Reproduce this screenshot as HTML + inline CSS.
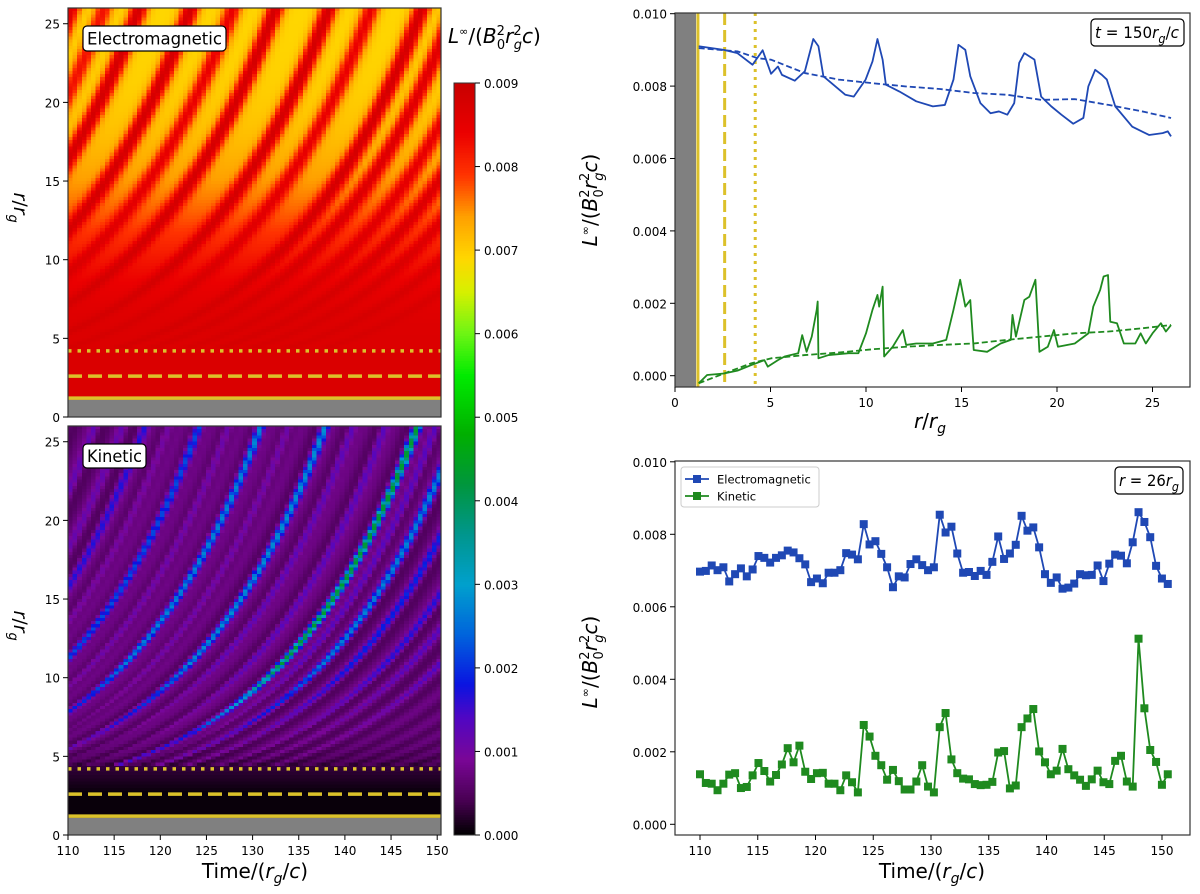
<!DOCTYPE html>
<html><head><meta charset="utf-8">
<style>
body{margin:0;background:#fff;width:1200px;height:894px;overflow:hidden;position:relative;font-family:"DejaVu Sans","Liberation Sans",sans-serif;}
canvas{position:absolute;image-rendering:pixelated;}
svg{position:absolute;left:0;top:0;}
text{font-family:"DejaVu Sans","Liberation Sans",sans-serif;fill:#000;}
</style></head>
<body>
<canvas id="hmEM" width="81" height="130" style="left:68px;top:8px;width:373px;height:409px"></canvas>
<canvas id="hmK" width="81" height="130" style="left:68px;top:426px;width:373px;height:409px"></canvas>
<canvas id="cbar" width="1" height="300" style="left:454px;top:83px;width:21px;height:752px"></canvas>
<svg id="main" width="1200" height="894"></svg>
<script>
// ---------- data ----------
const emSeries=[6.97,6.99,7.14,7.01,7.09,6.70,6.90,7.06,6.84,7.03,7.40,7.35,7.22,7.35,7.42,7.55,7.50,7.34,7.17,6.68,6.78,6.65,6.94,6.94,7.01,7.48,7.44,7.31,8.28,7.72,7.81,7.46,7.09,6.54,6.84,6.81,7.18,7.31,7.15,7.01,7.09,8.54,8.05,8.21,7.47,6.94,6.96,6.85,6.99,6.88,7.24,7.94,7.32,7.47,7.71,8.51,8.10,8.19,7.64,6.90,6.66,6.81,6.50,6.53,6.64,6.90,6.87,6.88,7.14,6.71,7.19,7.44,7.41,7.20,7.78,8.61,8.34,7.92,7.13,6.78,6.63];
const kinSeries=[1.38,1.14,1.12,0.94,1.12,1.37,1.41,1.00,1.03,1.35,1.69,1.47,1.18,1.36,1.65,2.10,1.71,2.17,1.45,1.25,1.41,1.42,1.12,1.12,0.94,1.35,1.16,0.88,2.74,2.42,1.89,1.63,1.23,1.50,1.19,0.96,0.96,1.18,1.63,1.04,0.88,2.68,3.07,1.79,1.41,1.26,1.24,1.11,1.08,1.09,1.17,1.98,2.02,0.99,1.07,2.68,2.92,3.18,2.01,1.71,1.38,1.48,2.08,1.52,1.35,1.23,1.06,1.24,1.48,1.16,1.11,1.75,1.89,1.18,1.04,5.12,3.20,2.05,1.72,1.09,1.38];
const tStart=110, tEnd=150.5;
const xTicksTime=[110,115,120,125,130,135,140,145,150];
const yTicksL=[0,2,4,6,8,10];
const yTickLabelsL=["0.000","0.002","0.004","0.006","0.008","0.010"];
const rEmSolid=[1.24,2.56,3.27,4.06,4.59,5.03,5.39,5.6,6.27,6.8,7.24,7.51,7.77,8.92,9.36,9.98,10.34,10.6,10.87,11.04,11.75,12.63,13.5,14.13,14.58,14.84,15.2,15.46,15.99,16.52,16.96,17.4,17.76,18.02,18.29,18.82,19.17,19.7,20.23,20.85,21.38,21.64,22.0,22.35,22.61,23.05,23.94,24.82,25.53,25.8,25.97];
const vEmSolid=[9.10,9.00,8.91,8.59,8.99,8.34,8.54,8.31,8.15,8.41,9.30,9.10,8.27,7.76,7.71,8.18,8.68,9.30,8.73,8.04,7.85,7.58,7.44,7.48,8.18,9.14,9.00,8.27,7.53,7.25,7.30,7.21,7.53,8.64,8.91,8.73,7.71,7.44,7.21,6.96,7.12,7.99,8.45,8.31,8.18,7.44,6.88,6.65,6.70,6.75,6.61];
const rEmDash=[1.24,3.27,4.33,5.03,6.8,8.57,10.34,12.1,13.87,15.64,17.4,19.17,20.93,22.7,24.47,25.97];
const vEmDash=[9.05,8.96,8.77,8.73,8.36,8.18,8.08,7.99,7.92,7.81,7.76,7.62,7.64,7.48,7.30,7.12];
const rKinSolid=[1.24,1.68,2.56,3.27,3.98,4.68,4.86,5.39,5.74,6.45,6.66,6.89,7.16,7.42,7.47,7.51,8.04,9.1,9.6,10.0,10.34,10.6,10.69,10.87,10.95,11.4,11.93,12.1,12.63,13.5,14.2,14.58,14.93,15.2,15.46,15.64,16.34,17.05,17.58,17.67,17.85,18.29,18.55,18.87,19.08,19.52,19.84,20.05,20.93,21.64,21.9,22.26,22.44,22.67,22.79,23.14,23.5,24.1,24.38,24.65,25.0,25.44,25.7,25.97];
const vKinSolid=[-0.21,0.02,0.06,0.14,0.29,0.43,0.25,0.43,0.53,0.62,1.12,0.66,1.08,1.82,2.05,0.48,0.57,0.62,0.62,1.17,1.82,2.23,1.91,2.46,0.53,0.80,1.26,0.85,0.89,0.89,0.99,1.82,2.65,1.91,2.09,0.71,0.66,0.89,0.99,1.68,1.08,2.09,2.18,2.65,0.66,0.80,1.26,0.80,0.89,1.17,1.91,2.37,2.74,2.78,1.49,1.45,0.89,0.89,1.17,0.89,1.17,1.45,1.22,1.40];
const rKinDash=[1.24,2.56,3.98,5.03,6.8,8.57,10.34,12.1,13.87,15.64,17.4,19.17,20.93,22.7,24.47,25.97];
const vKinDash=[-0.21,0.06,0.34,0.48,0.57,0.64,0.73,0.80,0.85,0.89,0.99,1.08,1.17,1.22,1.31,1.40];
const xTicksR=[0,5,10,15,20,25];
const emBandT=[80.5,84,87.8,93.4,98,102.6,108.4,113,118.5,122,126,129.5,133,137,141];
const emBandA=[0.9,0.7,1.0,1.0,0.8,1.0,1.0,0.8,1.0,0.9,0.8,0.9,0.8,0.8,0.7];
const kinStreakT=[83,86,88.4,91,94.3,97.5,101,104,108,111,114.5,118,120,122.5,125.7,129.3,132,135.2];
const kinStreakA=[1.3,1.2,1.8,1.3,2.5,1.4,3.0,1.4,3.0,1.5,1.5,4.5,1.6,2.8,2.0,1.8,1.4,1.5];
const cbTicks=[0,1,2,3,4,5,6,7,8,9];
const hLines=[1.2,2.6,4.2];

// ---------- colormap ----------
const stops=[[0,[0,0,0]],[0.4,[70,0,80]],[0.9,[122,6,150]],[1.4,[80,6,195]],[1.8,[10,20,225]],[2.4,[0,100,220]],[3.0,[0,160,205]],[3.6,[0,150,140]],[4.2,[0,150,60]],[4.8,[0,175,0]],[5.5,[0,235,0]],[6.0,[110,245,20]],[6.5,[215,240,0]],[6.9,[255,215,0]],[7.4,[255,160,0]],[7.9,[255,50,0]],[8.4,[235,0,0]],[9.0,[200,0,0]]];
function cmap(v){
  if(v<=0) return stops[0][1];
  for(let i=1;i<stops.length;i++){ if(v<=stops[i][0]){const a=stops[i-1],b=stops[i];const f=(v-a[0])/(b[0]-a[0]);return a[1].map((c,k)=>Math.round(c+(b[1][k]-c)*f));}}
  return stops[stops.length-1][1];
}
function launchT(t,r){return t-Math.log(Math.max(r-1.5,0.05)/3.5)/0.065;}
function drawHeat(id,fn){
  const c=document.getElementById(id),ctx=c.getContext('2d'),img=ctx.createImageData(81,130);
  for(let j=0;j<130;j++){const r=26-(j+0.5)*0.2;for(let i=0;i<81;i++){const t=110+(i+0.5)*0.5;const col=cmap(fn(t,r));const p=(j*81+i)*4;img.data[p]=col[0];img.data[p+1]=col[1];img.data[p+2]=col[2];img.data[p+3]=255;}}
  ctx.putImageData(img,0,0);
}
drawHeat('hmEM',(t,r)=>{
  const b=6.9+1.75*Math.exp(-Math.pow(Math.max(r-5,0)/9,2));
  if(r<4.5) return 8.7;
  const T=launchT(t,r);let m=0;
  emBandT.forEach((bt,k)=>{const g=emBandA[k]*Math.exp(-Math.pow((T-bt)/1.0,2));if(g>m)m=g;});
  return b+(8.8-b)*m;
});
drawHeat('hmK',(t,r)=>{
  if(r<4.3) return r<2.7?0.05:0.05+(r-2.7)*0.15;
  let base=0.8-0.35*Math.exp(-(r-4.3)/0.8);
  const T=launchT(t,r);let m=0;
  const fade=Math.min(1,Math.max(0,(r-6)/5));
  kinStreakT.forEach((st,k)=>{const g=(kinStreakA[k]-0.8)*Math.exp(-Math.pow((T-st)/0.45,2));if(g>m)m=g;});
  const dark=-0.3*Math.exp(-Math.pow(((T%3.3)+3.3)%3.3-1.6,2));
  return base+dark+m*(0.3+0.7*fade);
});
(function(){const c=document.getElementById('cbar'),ctx=c.getContext('2d');for(let j=0;j<300;j++){const v=9*(1-(j+0.5)/300);const col=cmap(v);ctx.fillStyle=`rgb(${col[0]},${col[1]},${col[2]})`;ctx.fillRect(0,j,1,1);}})();

// ---------- svg ----------
const NS='http://www.w3.org/2000/svg',svg=document.getElementById('main');
function el(tag,attrs,parent){const e=document.createElementNS(NS,tag);for(const k in attrs)e.setAttribute(k,attrs[k]);(parent||svg).appendChild(e);return e;}
function txt(s,attrs,parent){const e=el('text',attrs,parent);e.innerHTML=s;return e;}
const YEL='#dcc12a',BLUE='#1f48b4',GREEN='#1f8a1f';

const hx=t=>68+(t-110)*9.23;
const panels=[{top:8,bot:417,name:'electromagnetic'},{top:426,bot:835,name:'kinetic'}];
panels.forEach(p=>{
  const ry=r=>p.bot-r*(p.bot-p.top)/26;
  const g=el('g',{});
  
  
  el('rect',{x:68,y:ry(1.1),width:373,height:p.bot-ry(1.1),fill:'#808080'},g);
  hLines.forEach((r,k)=>{
    const l=el('line',{x1:68,x2:441,y1:ry(r),y2:ry(r),stroke:YEL,'stroke-width':3.5,'stroke-dasharray':k==0?'none':(k==1?'14,6':'3.5,6')},g);
    
    
  });
  el('rect',{x:68,y:p.top,width:373,height:p.bot-p.top,fill:'none',stroke:'#333','stroke-width':1.2},g);
  [0,5,10,15,20,25].forEach(r=>{el('line',{x1:63,x2:68,y1:ry(r),y2:ry(r),stroke:'#000'},g);txt(String(r),{x:60,y:ry(r)+5,'text-anchor':'end','font-size':12},g);});
  const yl=txt('<tspan font-style="italic">r</tspan>/<tspan font-style="italic">r</tspan><tspan font-size="13" dy="5" font-style="italic">g</tspan>',{x:0,y:0,'font-size':19,transform:`translate(14,${(p.top+p.bot)/2-20}) rotate(90)`},g);
  
  
});
xTicksTime.forEach(t=>{el('line',{x1:hx(t),x2:hx(t),y1:835,y2:840,stroke:'#000'});txt(String(t),{x:hx(t),y:855,'text-anchor':'middle','font-size':12});});
const hxl=txt('Time/(<tspan font-style="italic">r</tspan><tspan font-size="14" dy="5" font-style="italic">g</tspan><tspan dy="-5">/</tspan><tspan font-style="italic">c</tspan>)',{x:255,y:878,'text-anchor':'middle','font-size':20});


[[83,26,143,25,'Electromagnetic',87,44.5,16.5],[83,444,63,24,'Kinetic',87,462,16.5]].forEach(b=>{
  el('rect',{x:b[0],y:b[1],width:b[2],height:b[3],rx:4,fill:'#fff',stroke:'#000','stroke-width':1.2});
  const t=txt(b[4],{x:b[5],y:b[6],'font-size':b[7],textLength:b[2]-8,lengthAdjust:'spacingAndGlyphs'});
  
  
});
el('rect',{x:454,y:83,width:21,height:752,fill:'none',stroke:'#333'});
cbTicks.forEach(v=>{const y=835-v/9*752;el('line',{x1:475,x2:480,y1:y,y2:y,stroke:'#000'});txt((v/1000).toFixed(3),{x:484,y:y+5,'font-size':12});});
const cbl=txt('<tspan font-style="italic">L</tspan><tspan font-size="11" dy="-8">∞</tspan><tspan dy="8">/(</tspan><tspan font-style="italic">B</tspan><tspan font-size="13" dy="-8">2</tspan><tspan font-size="13" dx="-8" dy="14">0</tspan><tspan font-style="italic" dy="-6">r</tspan><tspan font-size="13" dy="-8">2</tspan><tspan font-size="13" font-style="italic" dx="-8" dy="14">g</tspan><tspan font-style="italic" dy="-6">c</tspan>)',{x:448,y:43,'font-size':20});



function ylab(y){const t=txt('<tspan font-style="italic">L</tspan><tspan font-size="11" dy="-8">∞</tspan><tspan dy="8">/(</tspan><tspan font-style="italic">B</tspan><tspan font-size="13" dy="-8">2</tspan><tspan font-size="13" dx="-8" dy="14">0</tspan><tspan font-style="italic" dy="-6">r</tspan><tspan font-size="13" dy="-8">2</tspan><tspan font-size="13" font-style="italic" dx="-8" dy="14">g</tspan><tspan font-style="italic" dy="-6">c</tspan>)',{x:0,y:0,'font-size':20,'text-anchor':'middle',transform:`translate(597,${y}) rotate(-90)`});
 
 }
const xr=r=>675+r*19.1, yT=v=>375.7-v*36.2;
el('rect',{x:675,y:13,width:515,height:374,fill:'#fff'});
el('rect',{x:675,y:13,width:xr(1.1)-675,height:374,fill:'#808080'});
hLines.forEach((r,k)=>{const l=el('line',{x1:xr(r),x2:xr(r),y1:13,y2:387,stroke:YEL,'stroke-width':3,'stroke-dasharray':k==0?'none':(k==1?'12,5':'3,5')});
 
 });
function poly(xs,ys,fx,fy,color,dash,name){const p=el('polyline',{points:xs.map((x,i)=>fx(x)+','+fy(ys[i])).join(' '),fill:'none',stroke:color,'stroke-width':1.8,'stroke-dasharray':dash||'none','stroke-linejoin':'round'});
 
 return p;}
poly(rEmDash,vEmDash,xr,yT,BLUE,'6,3','em-profile-time-averaged');
poly(rEmSolid,vEmSolid,xr,yT,BLUE,null,'em-profile-t150');
poly(rKinDash,vKinDash,xr,yT,GREEN,'6,3','kinetic-profile-time-averaged');
poly(rKinSolid,vKinSolid,xr,yT,GREEN,null,'kinetic-profile-t150');
el('rect',{x:675,y:13,width:515,height:374,fill:'none',stroke:'#333','stroke-width':1.2});
yTicksL.forEach((v,i)=>{el('line',{x1:670,x2:675,y1:yT(v),y2:yT(v),stroke:'#000'});txt(yTickLabelsL[i],{x:667,y:yT(v)+5,'text-anchor':'end','font-size':12});});
xTicksR.forEach(r=>{el('line',{x1:xr(r),x2:xr(r),y1:387,y2:392,stroke:'#000'});txt(String(r),{x:xr(r),y:407,'text-anchor':'middle','font-size':12});});
const rxl=txt('<tspan font-style="italic">r</tspan>/<tspan font-style="italic">r</tspan><tspan font-size="14" dy="5" font-style="italic">g</tspan>',{x:930,y:428,'text-anchor':'middle','font-size':20});


ylab(200);
el('rect',{x:1091,y:19,width:93,height:27,rx:4,fill:'#fff',stroke:'#000','stroke-width':1.2});
const tb=txt('<tspan font-style="italic">t</tspan> = 150<tspan font-style="italic">r</tspan><tspan font-size="12" dy="5" font-style="italic">g</tspan><tspan dy="-5">/</tspan><tspan font-style="italic">c</tspan>',{x:1095,y:38,'font-size':16,textLength:84,lengthAdjust:'spacingAndGlyphs'});



const xt=t=>700+(t-110)*11.55, yB=v=>824.3-v*36.25;
const times=emSeries.map((_,i)=>tStart+i*(tEnd-tStart)/(emSeries.length-1));
const timesK=kinSeries.map((_,i)=>tStart+i*(tEnd-tStart)/(kinSeries.length-1));
el('rect',{x:675,y:461,width:515,height:374,fill:'none',stroke:'#333','stroke-width':1.2});
[[times,emSeries,BLUE,'em'],[timesK,kinSeries,GREEN,'kinetic']].forEach(s=>{
  poly(s[0],s[1],xt,yB,s[2],null,s[3]+'-series-line');
  s[1].forEach((v,i)=>{const m=el('rect',{x:xt(s[0][i])-4,y:yB(v)-4,width:8,height:8,fill:s[2]});
    
    });
});
yTicksL.forEach((v,i)=>{el('line',{x1:670,x2:675,y1:yB(v),y2:yB(v),stroke:'#000'});txt(yTickLabelsL[i],{x:667,y:yB(v)+5,'text-anchor':'end','font-size':12});});
xTicksTime.forEach(t=>{el('line',{x1:xt(t),x2:xt(t),y1:835,y2:840,stroke:'#000'});txt(String(t),{x:xt(t),y:855,'text-anchor':'middle','font-size':12});});
const bxl=txt('Time/(<tspan font-style="italic">r</tspan><tspan font-size="14" dy="5" font-style="italic">g</tspan><tspan dy="-5">/</tspan><tspan font-style="italic">c</tspan>)',{x:932,y:878,'text-anchor':'middle','font-size':20});


ylab(662);
const lg=el('g',{});


el('rect',{x:681,y:467,width:138,height:40,rx:3,fill:'#fff',stroke:'#ccc'},lg);
[[BLUE,'Electromagnetic',479],[GREEN,'Kinetic',496]].forEach(e=>{
  const g=el('g',{},lg);
  
  
  el('line',{x1:685,x2:709,y1:e[2],y2:e[2],stroke:e[0],'stroke-width':1.8},g);
  el('rect',{x:693,y:e[2]-4,width:8,height:8,fill:e[0]},g);
  txt(e[1],{x:717,y:e[2]+4.5,'font-size':11.5},g);
});
el('rect',{x:1115,y:467,width:68,height:27,rx:4,fill:'#fff',stroke:'#000','stroke-width':1.2});
const rb=txt('<tspan font-style="italic">r</tspan> = 26<tspan font-style="italic">r</tspan><tspan font-size="12" dy="5" font-style="italic">g</tspan>',{x:1119,y:486,'font-size':16,textLength:60,lengthAdjust:'spacingAndGlyphs'});


</script>
</body></html>
